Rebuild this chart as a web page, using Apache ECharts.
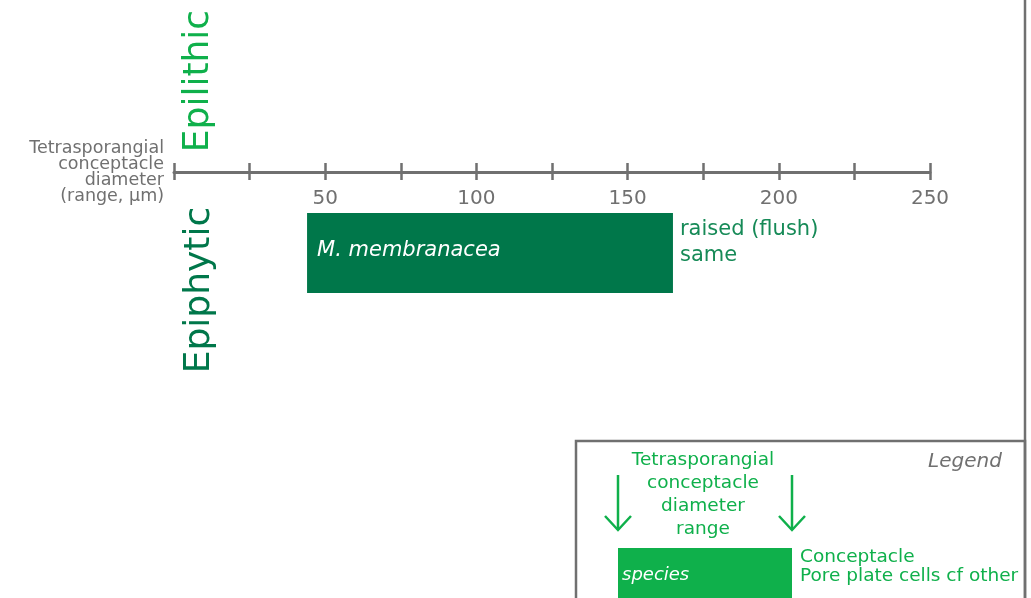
<!DOCTYPE html>
<html>
<head>
<meta charset="utf-8">
<script src="https://cdn.jsdelivr.net/npm/echarts@6/dist/echarts.min.js"></script>
<style>
html,body{margin:0;padding:0;background:#fff;}
#chart{width:1031px;height:598px;}
</style>
</head>
<body>
<div id="chart"></div>
<script>
// ---- data ----
const species = ['M. membranacea'];
const rangeMin = [44];
const rangeMax = [165];
const conceptacle = ['raised (flush)'];
const porePlate = ['same'];
const axisTicks = [0, 25, 50, 75, 100, 125, 150, 175, 200, 225, 250];
const axisTitle = ['Tetrasporangial', 'conceptacle', 'diameter', '(range, \u00b5m)'];
const habitatTop = 'Epilithic';
const habitatBottom = 'Epiphytic';
const legendTitle = 'Legend';
const legendRangeText = ['Tetrasporangial', 'conceptacle', 'diameter', 'range'];
const legendSpecies = 'species';
const legendNotes = ['Conceptacle', 'Pore plate cells cf other'];

const FONT = 'DejaVu Sans';
const GREY = '#707070';
const DARK = '#00774a';
const BRIGHT = '#0fb04b';

const chart = echarts.init(document.getElementById('chart'));
const seriesData = species.map((s, i) => [rangeMin[i], rangeMax[i], i]);

const option = {
  animation: false,
  backgroundColor: '#fff',
  grid: { left: 174, right: 101, top: 172, height: 162 },
  xAxis: [
    {
      type: 'value', position: 'top', min: axisTicks[0], max: axisTicks[axisTicks.length - 1], interval: 25,
      splitLine: { show: false },
      axisLine: { show: true, lineStyle: { color: GREY, width: 3 } },
      axisTick: { show: true, inside: false, length: 9, lineStyle: { color: GREY, width: 2.5 } },
      axisLabel: {
        show: true, inside: true, margin: 17, color: GREY, fontFamily: FONT, fontSize: 20,
        formatter: v => (v > 0 && v % 50 === 0) ? String(v) : ''
      }
    },
    {
      type: 'value', position: 'top', min: axisTicks[0], max: axisTicks[axisTicks.length - 1], interval: 25,
      splitLine: { show: false },
      axisLine: { show: false },
      axisTick: { show: true, inside: true, length: 8, lineStyle: { color: GREY, width: 2.5 } },
      axisLabel: { show: false }
    }
  ],
  yAxis: { type: 'category', data: species, show: false },
  series: [{
    type: 'custom',
    xAxisIndex: 0,
    encode: { x: [0, 1], y: 2 },
    data: seriesData,
    renderItem: function (params, api) {
      const i = params.dataIndex;
      const a = api.coord([api.value(0), api.value(2)]);
      const b = api.coord([api.value(1), api.value(2)]);
      const h = 80;
      return {
        type: 'group',
        children: [
          { type: 'rect', shape: { x: a[0], y: a[1] - h / 2, width: b[0] - a[0], height: h }, style: { fill: DARK } },
          { type: 'text', x: a[0] + 10, y: a[1] - 2, style: { text: species[i], fill: '#fff', font: 'italic 21px ' + FONT, align: 'left', verticalAlign: 'middle' } },
          { type: 'text', x: b[0] + 7, y: a[1] - 10, style: { text: conceptacle[i] + '\n' + porePlate[i], fill: '#168a57', font: '21px ' + FONT, lineHeight: 26, align: 'left', verticalAlign: 'middle' } }
        ]
      };
    }
  }],
  graphic: [
    { type: 'text', x: 164, y: 172, style: { text: axisTitle.join('\n'), fill: GREY, font: '17.5px ' + FONT, lineHeight: 16, align: 'right', verticalAlign: 'middle' } },
    { type: 'text', x: 199, y: 81, rotation: Math.PI / 2, style: { text: habitatTop, fill: BRIGHT, font: '36px ' + FONT, align: 'center', verticalAlign: 'middle' } },
    { type: 'text', x: 200, y: 290, rotation: Math.PI / 2, style: { text: habitatBottom, fill: DARK, font: '36px ' + FONT, align: 'center', verticalAlign: 'middle' } },
    { type: 'line', shape: { x1: 1025, y1: 0, x2: 1025, y2: 598 }, style: { stroke: GREY, lineWidth: 2.5 } },
    { type: 'rect', shape: { x: 576, y: 441, width: 449, height: 200 }, style: { fill: 'none', stroke: GREY, lineWidth: 2.5 } },
    { type: 'text', x: 965, y: 462, style: { text: legendTitle, fill: GREY, font: 'italic 20px ' + FONT, align: 'center', verticalAlign: 'middle' } },
    { type: 'text', x: 703, y: 495, style: { text: legendRangeText.join('\n'), fill: BRIGHT, font: '18.5px ' + FONT, lineHeight: 23, align: 'center', verticalAlign: 'middle' } },
    { type: 'polyline', shape: { points: [[618, 475], [618, 530]] }, style: { stroke: BRIGHT, lineWidth: 2.5, fill: 'none' } },
    { type: 'polyline', shape: { points: [[605, 516], [618, 530], [631, 516]] }, style: { stroke: BRIGHT, lineWidth: 2.5, fill: 'none' } },
    { type: 'polyline', shape: { points: [[792, 475], [792, 530]] }, style: { stroke: BRIGHT, lineWidth: 2.5, fill: 'none' } },
    { type: 'polyline', shape: { points: [[779, 516], [792, 530], [805, 516]] }, style: { stroke: BRIGHT, lineWidth: 2.5, fill: 'none' } },
    { type: 'rect', shape: { x: 618, y: 548, width: 174, height: 60 }, style: { fill: BRIGHT } },
    { type: 'text', x: 622, y: 575, style: { text: legendSpecies, fill: '#fff', font: 'italic 18px ' + FONT, align: 'left', verticalAlign: 'middle' } },
    { type: 'text', x: 800, y: 567, style: { text: legendNotes.join('\n'), fill: BRIGHT, font: '18.5px ' + FONT, lineHeight: 19, align: 'left', verticalAlign: 'middle' } }
  ]
};
chart.setOption(option);
</script>
</body>
</html>
